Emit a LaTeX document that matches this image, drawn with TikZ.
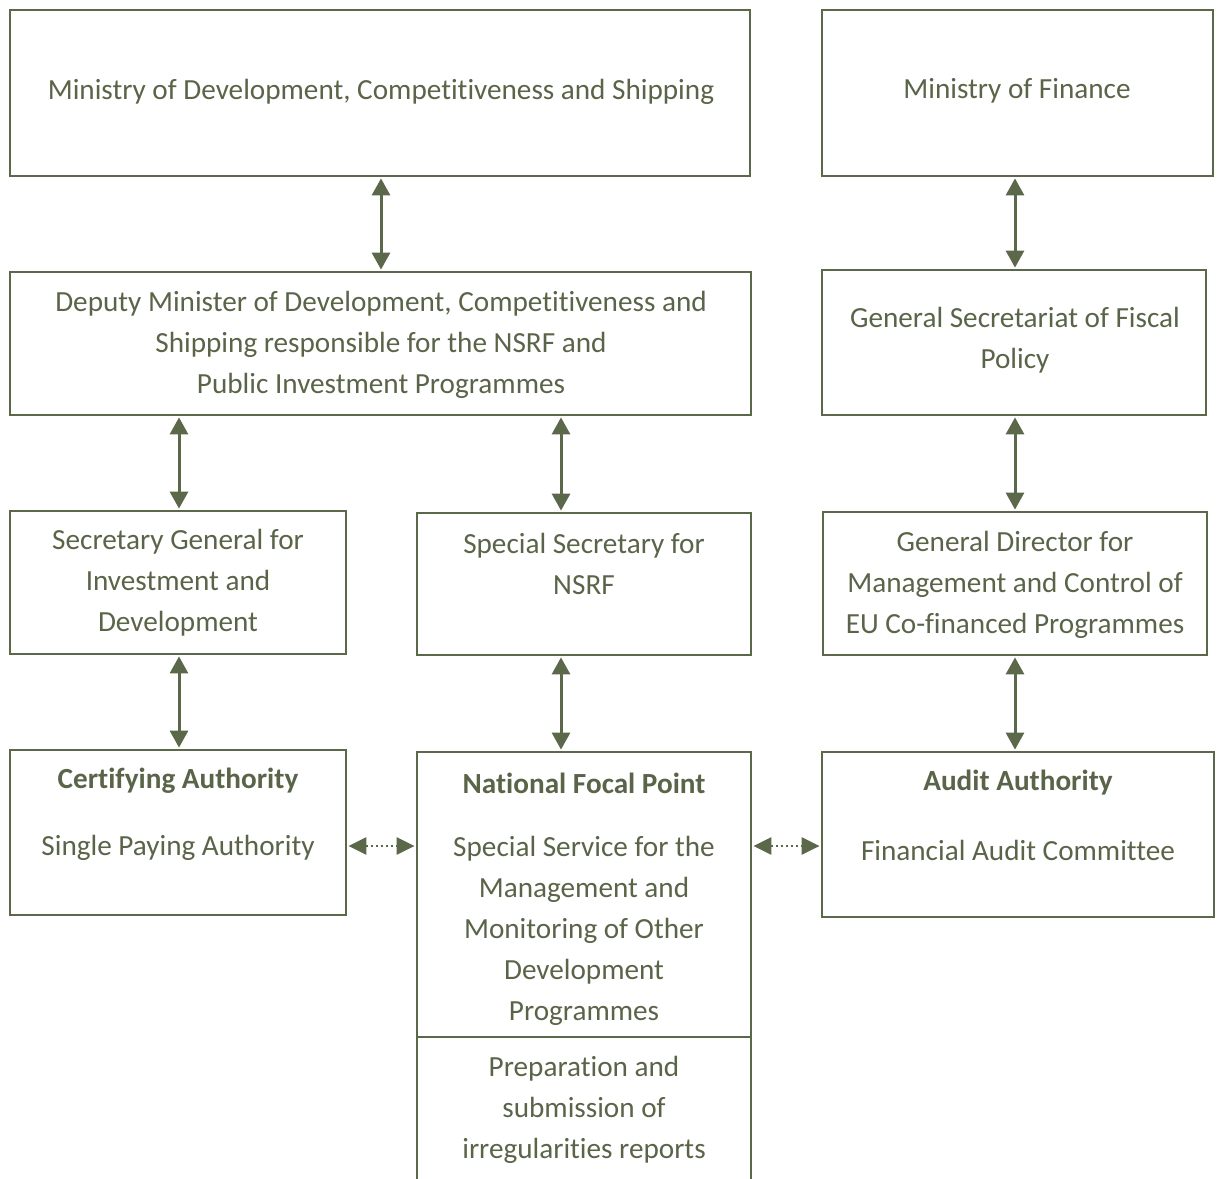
\documentclass[tikz,border=0pt]{standalone}
\usepackage{fontspec}
\setmainfont{Carlito}[Ligatures=NoCommon]
\usetikzlibrary{arrows.meta}
\definecolor{olive}{HTML}{5B6849}
\definecolor{olivetext}{HTML}{5A6448}
\tikzset{
  box/.style={draw=olive, line width=2.8pt, rectangle, inner sep=0pt},
  txt/.style={text=olivetext, align=center, inner sep=0pt, font=\fontsize{29.2}{41}\selectfont},
  btxt/.style={txt, font=\fontsize{29.2}{41}\selectfont\bfseries},
  biarrow/.style={draw=olive, line width=3pt, {Triangle[length=17pt,width=18pt]}-{Triangle[length=17pt,width=18pt]}, shorten <=1pt, shorten >=1pt},
  dotarrow/.style={draw=olive, line width=2.6pt, dash pattern=on 2.5pt off 2.5pt, {Triangle[length=18pt,width=17pt]}-{Triangle[length=18pt,width=17pt]}, shorten <=1pt, shorten >=1pt}
}
\begin{document}
\begin{tikzpicture}[x=1pt,y=-1pt]
\useasboundingbox (0,0) rectangle (1217,1178);
% boxes
\node[box, minimum width=740pt, minimum height=166pt] (mdev) at (380,93) {};
\node[box, minimum width=391pt, minimum height=166pt] (fin) at (1017.5,93) {};
\node[box, minimum width=741pt, minimum height=143pt] (dep) at (380.5,343.5) {};
\node[box, minimum width=384pt, minimum height=145pt] (gsec) at (1014,342.5) {};
\node[box, minimum width=336pt, minimum height=143pt] (sg) at (178,582.5) {};
\node[box, minimum width=334pt, minimum height=142pt] (ss) at (584,584) {};
\node[box, minimum width=384pt, minimum height=143pt] (gd) at (1015,583.5) {};
\node[box, minimum width=336pt, minimum height=165pt] (cert) at (178,832.5) {};
\node[box, minimum width=334pt, minimum height=285pt] (nfp) at (584,894.5) {};
\node[box, minimum width=334pt, minimum height=160pt] (prep) at (584,1117) {};
\node[box, minimum width=392pt, minimum height=165pt] (aud) at (1018,834.5) {};
% texts
\node[txt] (tmdev) at (381,92) {Ministry of Development, Competitiveness and Shipping};
\node[txt] (tfin) at (1017,91) {Ministry of Finance};
\node[txt] (tdep) at (381,345) {Deputy Minister of Development, Competitiveness and\\Shipping responsible for the NSRF and\\Public Investment Programmes};
\node[txt] (tgsec) at (1015,340.5) {General Secretariat of Fiscal\\Policy};
\node[txt] (tsg) at (178,583) {Secretary General for\\Investment and\\Development};
\node[txt] (tss) at (584,564) {Special Secretary for\\NSRF};
\node[txt] (tgd) at (1015,585) {General Director for\\Management and Control of\\EU Co-financed Programmes};
\node[btxt] (tcert1) at (178,781) {Certifying Authority};
\node[txt] (tcert2) at (178,848) {Single Paying Authority};
\node[btxt] (tnfp1) at (584,783) {National Focal Point};
\node[txt] (tnfp2) at (584,931) {Special Service for the\\Management and\\Monitoring of Other\\Development\\Programmes};
\node[txt] (tprep) at (584,1110) {Preparation and\\submission of\\irregularities reports};
\node[btxt] (taud1) at (1018,783) {Audit Authority};
\node[txt] (taud2) at (1018,850) {Financial Audit Committee};
% arrows
\draw[biarrow] (mdev.south -| 381,0) -- (dep.north -| 381,0);
\draw[biarrow] (fin.south -| 1015,0) -- (gsec.north -| 1015,0);
\draw[biarrow] (dep.south -| 179,0) -- (sg.north -| 179,0);
\draw[biarrow] (dep.south -| 561,0) -- (ss.north -| 561,0);
\draw[biarrow] (gsec.south -| 1015,0) -- (gd.north -| 1015,0);
\draw[biarrow] (sg.south -| 179,0) -- (cert.north -| 179,0);
\draw[biarrow] (ss.south -| 561,0) -- (nfp.north -| 561,0);
\draw[biarrow] (gd.south -| 1015,0) -- (aud.north -| 1015,0);
\draw[dotarrow] (cert.east |- 0,846) -- (nfp.west |- 0,846);
\draw[dotarrow] (nfp.east |- 0,846) -- (aud.west |- 0,846);
\end{tikzpicture}
\end{document}
